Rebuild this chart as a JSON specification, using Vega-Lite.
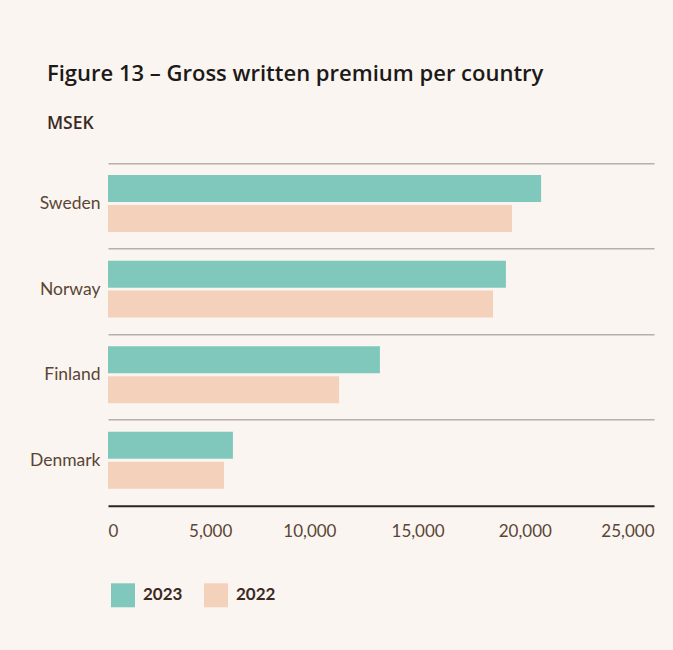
{
  "$schema": "https://vega.github.io/schema/vega-lite/v6.json",
  "width": 546,
  "height": 342.4,
  "autosize": {"type": "none"},
  "padding": {"left": 108, "top": 163.3, "right": 19, "bottom": 144.3},
  "background": "#faf5f1",
  "title": {
    "text": "Figure 13 – Gross written premium per country",
    "subtitle": "MSEK",
    "anchor": "start",
    "frame": "group",
    "dx": -61,
    "offset": 30,
    "font": "Open Sans",
    "fontSize": 22,
    "fontWeight": 600,
    "color": "#1c1917",
    "subtitleFont": "Open Sans",
    "subtitleFontSize": 17.5,
    "subtitleFontWeight": 600,
    "subtitleColor": "#3b2a1f",
    "subtitlePadding": 29
  },
  "config": {"view": {"stroke": null}, "font": "Lato"},
  "data": {
    "values": [
      {"country": "Sweden", "year": "2023", "value": 19830},
      {"country": "Sweden", "year": "2022", "value": 18500},
      {"country": "Norway", "year": "2023", "value": 18220},
      {"country": "Norway", "year": "2022", "value": 17630},
      {"country": "Finland", "year": "2023", "value": 12450},
      {"country": "Finland", "year": "2022", "value": 10580},
      {"country": "Denmark", "year": "2023", "value": 5720},
      {"country": "Denmark", "year": "2022", "value": 5310}
    ]
  },
  "mark": {"type": "bar"},
  "encoding": {
    "y": {
      "field": "country",
      "type": "nominal",
      "sort": ["Sweden", "Norway", "Finland", "Denmark"],
      "scale": {"paddingInner": 0, "paddingOuter": 0},
      "axis": {
        "title": null,
        "domain": false,
        "ticks": false,
        "labelPadding": 8,
        "labelFont": "Lato",
        "labelFontSize": 17.5,
        "labelColor": "#5a4535",
        "labelOffset": -2,
        "grid": true,
        "bandPosition": 0,
        "gridColor": "#b5b0ab",
        "gridWidth": 1.5
      }
    },
    "yOffset": {
      "field": "year",
      "type": "nominal",
      "sort": ["2023", "2022"],
      "scale": {"paddingInner": 0.1, "paddingOuter": 0.477, "align": 0.41}
    },
    "x": {
      "field": "value",
      "type": "quantitative",
      "scale": {"domain": [0, 25000], "nice": false},
      "axis": {
        "title": null,
        "values": [0, 5000, 10000, 15000, 20000, 25000],
        "format": ",d",
        "grid": false,
        "ticks": false,
        "domainColor": "#2b2521",
        "domainWidth": 2,
        "labelFlush": true,
        "labelPadding": 18,
        "labelFont": "Lato",
        "labelFontSize": 17,
        "labelColor": "#5a4535",
        "labelOffset": {
          "condition": [
            {"test": "datum.value == 5000", "value": -7},
            {"test": "datum.value == 10000", "value": -17},
            {"test": "datum.value == 15000", "value": -18},
            {"test": "datum.value == 20000", "value": -20}
          ],
          "value": 0
        }
      }
    },
    "color": {
      "field": "year",
      "type": "nominal",
      "scale": {"domain": ["2023", "2022"], "range": ["#80c8bb", "#f4d1bb"]},
      "legend": {
        "title": null,
        "orient": "none",
        "legendX": 3,
        "legendY": 420,
        "direction": "horizontal",
        "symbolType": "square",
        "symbolSize": 576,
        "symbolStrokeWidth": 0,
        "labelFont": "Lato",
        "labelFontSize": 17,
        "labelFontWeight": "bold",
        "labelColor": "#3b2a1f",
        "labelOffset": 8,
        "columnPadding": 21,
        "padding": 0
      }
    }
  }
}
